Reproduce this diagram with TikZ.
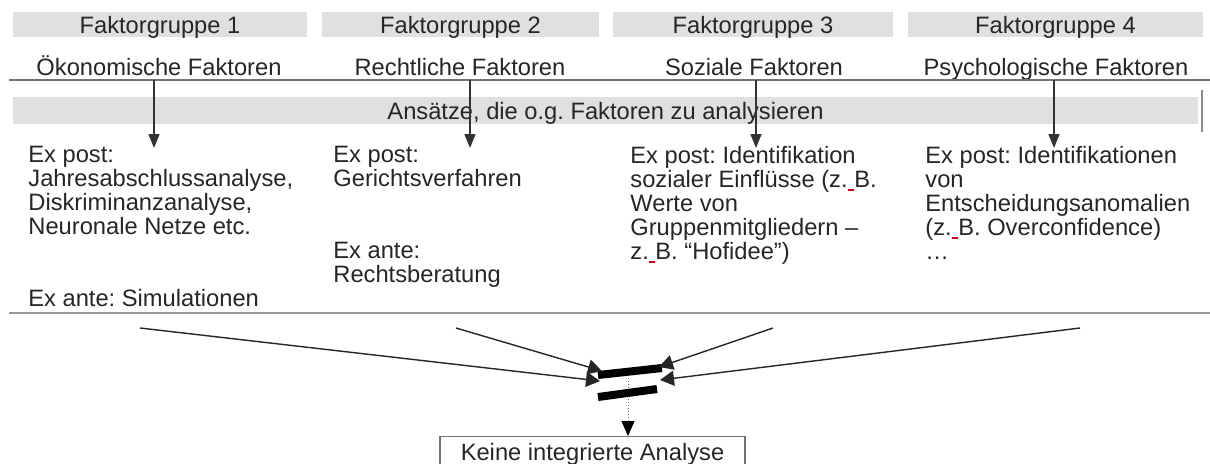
\documentclass[tikz,border=0pt]{standalone}
\usepackage{fontspec}
\setmainfont{Liberation Sans}
\usetikzlibrary{arrows.meta}
\newcommand\zbsp{\textcolor{red!85!black}{\rule[-1.8pt]{0.278em}{1pt}}}
\begin{document}
\frenchspacing
\begin{tikzpicture}[x=0.5pt,y=-0.5pt,
  every node/.style={inner sep=0pt, font=\fontsize{11.85}{12}\selectfont\frenchspacing, text=black!85},
  groupbar/.style={fill=black!12, minimum height=12.5pt, text height=8.6pt, text depth=0pt},
  coltext/.style={anchor=north west, align=left},
  rulegray/.style={draw=black!55},
  downarrow/.style={draw=black!80, line width=0.7pt, -{Triangle[length=7pt,width=5.5pt]}},
  convarrow/.style={draw=black!85, line width=0.7pt, -{Triangle[length=7pt,width=7.5pt]}},
  thickbar/.style={draw=black, line width=4pt},
  dotarrow/.style={draw=black!60, densely dotted, line width=0.5pt, -{Triangle[length=7.5pt,width=6.5pt,black]}}
]
\useasboundingbox (0,0) rectangle (1210,463);
\fill[white] (0,0) rectangle (1210,463);

% group bars
\node[groupbar, minimum width=147pt]   (g1) at (160,24.5)   {Faktorgruppe 1};
\node[groupbar, minimum width=138.5pt] (g2) at (460.5,24.5) {Faktorgruppe 2};
\node[groupbar, minimum width=140pt]   (g3) at (753,24.5)   {Faktorgruppe 3};
\node[groupbar, minimum width=147.5pt] (g4) at (1055.5,24.5) {Faktorgruppe 4};

% factor names
\node[anchor=base] (f1) at (159,75)  {Ökonomische Faktoren};
\node[anchor=base] (f2) at (460,75)  {Rechtliche Faktoren};
\node[anchor=base] (f3) at (754,75)  {Soziale Faktoren};
\node[anchor=base] (f4) at (1056,75) {Psychologische Faktoren};

% rule under factor names
\draw[rulegray, line width=0.6pt] (9,80) -- (1210,80);

% approaches bar
\node[groupbar, minimum width=592.5pt, minimum height=13.5pt] (ans) at (605.5,110.5)
  {Ansätze, die o.g. Faktoren zu analysieren};
\draw[draw=black!45, line width=1pt] (1202,90) -- (1202,132);

% columns
\node[coltext] (c1) at (28,146)
  {Ex post:\\Jahresabschlussanalyse,\\Diskriminanzanalyse,\\Neuronale Netze etc.\\[24pt]Ex ante: Simulationen};
\node[coltext] (c2) at (333,146)
  {Ex post:\\Gerichtsverfahren\\[24pt]Ex ante:\\Rechtsberatung};
\node[coltext] (c3) at (630,146)
  {Ex post: Identifikation\\sozialer Einflüsse (z.\zbsp B.\\Werte von\\Gruppenmitgliedern –\\z.\zbsp B. “Hofidee”)};
\node[coltext] (c4) at (925,146)
  {Ex post: Identifikationen\\von\\Entscheidungsanomalien\\(z.\zbsp B. Overconfidence)\\…};

% down arrows
\foreach \i/\x in {1/154, 2/470, 3/756, 4/1054} {
  \coordinate (d\i) at (\x,80);
  \coordinate (t\i) at (\x,148);
  \draw[downarrow] (d\i) -- (t\i);
}

% bottom rule
\draw[draw=black!40, line width=1.3pt] (9,313) -- (1210,313);

% converging lines
\coordinate (s1) at (140,328);
\coordinate (s2) at (456,328);
\coordinate (s3) at (773,328);
\coordinate (s4) at (1080,328);
\coordinate (e1) at (600,381);
\coordinate (e2) at (602,371);
\coordinate (e3) at (659,367);
\coordinate (e4) at (660,380);
\coordinate (m)  at (628,378);

% result box
\node[draw=black!55, line width=0.6pt, text height=8.6pt, text depth=10pt,
      inner xsep=0pt, inner ysep=3.4pt, minimum width=152.5pt, anchor=north]
  (res) at (592.5,436) {Keine integrierte Analyse};

\draw[dotarrow] (m) -- (m |- res.north);

\draw[thickbar] (598,375) -- (662,368);
\draw[thickbar] (598,397) -- (657,389);

\draw[convarrow] (s1) -- (e1);
\draw[convarrow] (s2) -- (e2);
\draw[convarrow] (s3) -- (e3);
\draw[convarrow] (s4) -- (e4);
\end{tikzpicture}
\end{document}
